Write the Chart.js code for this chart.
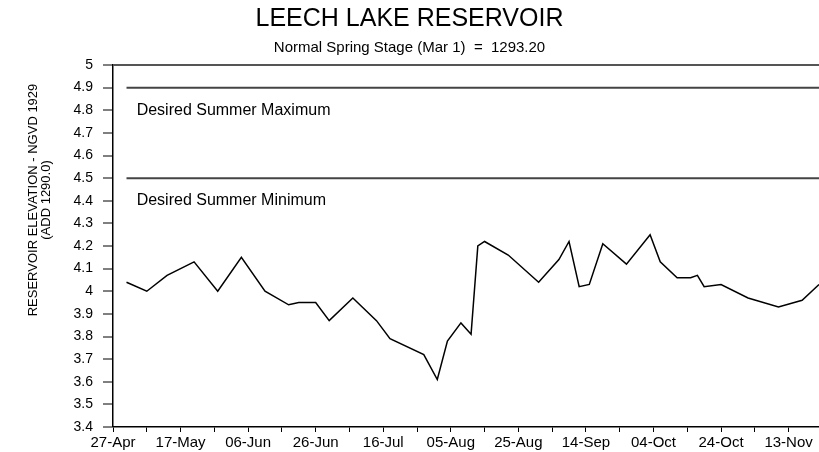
<!DOCTYPE html>
<html>
<head>
<meta charset="utf-8">
<title>Leech Lake Reservoir</title>
<script src="https://cdn.jsdelivr.net/npm/chart.js@4/dist/chart.umd.min.js"></script>
<style>
    body { margin: 0; background: #fff; }
    #chart { display: block; }
</style>
</head>
<body>
<canvas id="chart" width="819" height="452"></canvas>
<script>
// Reservoir elevation (ft above 1290.0), days counted from 27-Apr
const days = [4, 10, 16, 24, 31, 38, 45, 52, 55, 60, 64, 71, 78, 82, 92, 96, 99, 103, 106, 108,
    110, 117, 126, 132, 135, 138, 141, 145, 152, 159, 162, 167, 171, 173, 175, 180, 188, 197, 204, 209];
const elevation = [4.04, 4.00, 4.07, 4.13, 4.00, 4.15, 4.00, 3.94, 3.95, 3.95, 3.87, 3.97, 3.87, 3.79, 3.72, 3.61, 3.78, 3.86, 3.81, 4.20,
    4.22, 4.16, 4.04, 4.14, 4.22, 4.02, 4.03, 4.21, 4.12, 4.25, 4.13, 4.06, 4.06, 4.07, 4.02, 4.03, 3.97, 3.93, 3.96, 4.03];

// Desired summer band
const bandDays = [4, 209];
const summerMax = [4.9, 4.9];
const summerMin = [4.5, 4.5];
const bandLabels = ['Desired Summer Maximum', 'Desired Summer Minimum'];
const bandLabelAt = [4.8, 4.4];

// Axis tick labels (every 20 days)
const xTickLabels = ['27-Apr', '17-May', '06-Jun', '26-Jun', '16-Jul', '05-Aug', '25-Aug', '14-Sep', '04-Oct', '24-Oct', '13-Nov'];
const yMin = 3.4;
const yMax = 5;

const FONT = "'Liberation Sans', Arial, sans-serif";

const toPoints = (xs, ys) => xs.map((x, i) => ({ x: x, y: ys[i] }));

// Text annotations + rotated two-line axis title
const annotate = {
    id: 'annotate',
    afterDraw(chart) {
        const ctx = chart.ctx;
        const x = chart.scales.x;
        const y = chart.scales.y;
        const area = chart.chartArea;
        ctx.save();
        ctx.fillStyle = '#000';
        ctx.font = '16px ' + FONT;
        ctx.textAlign = 'left';
        ctx.textBaseline = 'middle';
        bandLabels.forEach((t, i) => {
            ctx.fillText(t, x.getPixelForValue(7), y.getPixelForValue(bandLabelAt[i]));
        });

        // y axis title
        ctx.font = '13px ' + FONT;
        ctx.textAlign = 'center';
        const cy = area.top + 135;
        ctx.translate(area.left - 80, cy);
        ctx.rotate(-Math.PI / 2);
        ctx.fillText('RESERVOIR ELEVATION - NGVD 1929', 0, 0);
        ctx.fillText('(ADD 1290.0)', 0, 13);
        ctx.restore();
    }
};

new Chart(document.getElementById('chart'), {
    type: 'line',
    data: {
        datasets: [
            {
                data: toPoints(days, elevation),
                borderColor: '#000',
                borderWidth: 1.5,
                pointRadius: 0,
                tension: 0
            },
            {
                data: toPoints(bandDays, summerMax),
                borderColor: '#444',
                borderWidth: 2,
                pointRadius: 0
            },
            {
                data: toPoints(bandDays, summerMin),
                borderColor: '#444',
                borderWidth: 2,
                pointRadius: 0
            }
        ]
    },
    options: {
        responsive: false,
        animation: false,
        layout: { padding: 0 },
        plugins: {
            legend: { display: false },
            tooltip: { enabled: false },
            title: {
                display: true,
                text: 'LEECH LAKE RESERVOIR',
                color: '#000',
                font: { family: FONT, size: 25, weight: 'normal' },
                padding: { top: 4, bottom: 0 }
            },
            subtitle: {
                display: true,
                text: 'Normal Spring Stage (Mar 1)  =  1293.20',
                color: '#000',
                font: { family: FONT, size: 15 },
                padding: { top: 5, bottom: 8 }
            }
        },
        scales: {
            x: {
                type: 'linear',
                min: 0,
                max: 209,
                border: { display: true, color: '#000', width: 1.5 },
                grid: { drawOnChartArea: false, color: '#000', tickLength: 5 },
                ticks: {
                    stepSize: 10,
                    includeBounds: false,
                    autoSkip: false,
                    maxRotation: 0,
                    padding: 2,
                    color: '#000',
                    font: { family: FONT, size: 15 },
                    callback: (v) => (v % 20 === 0 ? xTickLabels[v / 20] : '')
                },
                afterFit: (s) => { s.height = 25; }
            },
            y: {
                min: yMin,
                max: yMax,
                border: { display: true, color: '#000', width: 1.5 },
                grid: {
                    drawOnChartArea: true,
                    tickLength: 10,
                    tickColor: '#000',
                    tickWidth: 1,
                    color: (c) => (c.tick && Math.round(c.tick.value * 10) === 50 ? '#555' : 'rgba(0,0,0,0)'),
                    lineWidth: (c) => (c.tick && Math.round(c.tick.value * 10) === 50 ? 2 : 0)
                },
                ticks: {
                    stepSize: 0.1,
                    autoSkip: false,
                    padding: 10,
                    color: '#000',
                    font: { family: FONT, size: 14 },
                    callback: (v) => String(Math.round(v * 10) / 10)
                },
                afterFit: (s) => { s.width = 113; }
            }
        }
    },
    plugins: [annotate]
});
</script>
</body>
</html>
